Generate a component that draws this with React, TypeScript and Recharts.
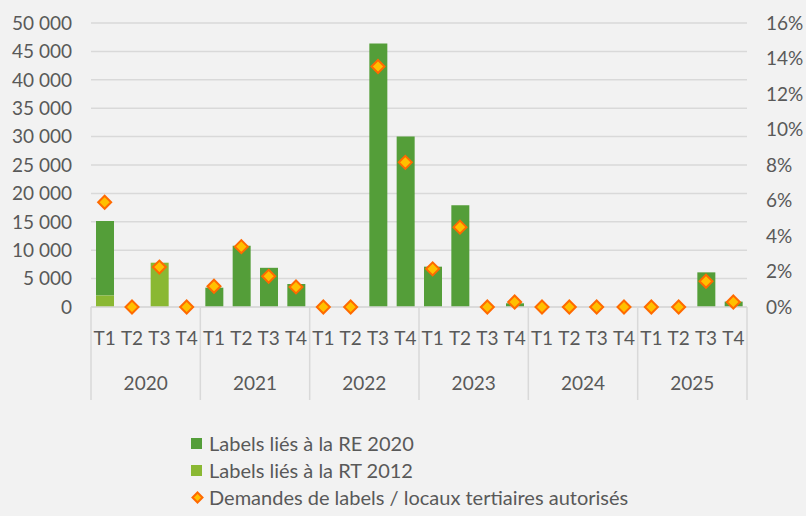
import React from "react";
import {
  ComposedChart,
  Bar,
  Line,
  XAxis,
  YAxis,
  CartesianGrid,
} from "recharts";

const years = ["2020", "2021", "2022", "2023", "2024", "2025"];
const quarters = ["T1", "T2", "T3", "T4"];

// Labels liés à la RE 2020 (nombre de m²)
const re2020 = [
  13100, 0, 0, 0,
  3400, 10800, 6900, 4050,
  0, 0, 46400, 30000,
  7100, 17900, 0, 650,
  0, 0, 0, 0,
  0, 0, 6100, 950,
];

// Labels liés à la RT 2012
const rt2012 = [
  2050, 0, 7800, 0,
  0, 0, 0, 0,
  0, 0, 0, 0,
  0, 0, 0, 0,
  0, 0, 0, 0,
  0, 0, 0, 0,
];

// Demandes de labels / locaux tertiaires autorisés (%)
const ratio = [
  5.9, 0, 2.25, 0,
  1.17, 3.4, 1.73, 1.13,
  0, 0, 13.55, 8.15,
  2.15, 4.5, 0, 0.28,
  0, 0, 0, 0,
  0, 0, 1.45, 0.28,
];

const leftTicks = [0, 5000, 10000, 15000, 20000, 25000, 30000, 35000, 40000, 45000, 50000];
const rightTicks = [0, 0.02, 0.04, 0.06, 0.08, 0.1, 0.12, 0.14, 0.16];

const labelRE = "Labels liés à la RE 2020";
const labelRT = "Labels liés à la RT 2012";
const labelRatio = "Demandes de labels / locaux tertiaires autorisés";

const data = re2020.map((v, i) => ({
  key: `${years[Math.floor(i / 4)]}-${quarters[i % 4]}`,
  quarter: quarters[i % 4],
  year: years[Math.floor(i / 4)],
  re: v,
  rt: rt2012[i],
  ratio: ratio[i] / 100,
}));

const W = 806;
const H = 516;
const LEFT = 91;
const RIGHT_W = 59;
const TOP = 23;
const XAXIS_H = 209;
const BAND = (W - LEFT - RIGHT_W) / data.length;

const FONT = "Lato, 'Open Sans', sans-serif";
const FS = 19;
const TEXT = "#595959";
const GRID = "#D9D9D9";
const DARK = "#549E39";
const LIGHT = "#8AB833";

const fmtThousands = (v: number) =>
  v === 0 ? "0" : `${Math.floor(v / 1000)} ${String(v % 1000).padStart(3, "0")}`;

function QuarterTick(props: any) {
  const { x, y, payload, index } = props;
  const i = index ?? payload.index;
  const q = data[i]?.quarter ?? "";
  const yr = data[i]?.year ?? "";
  const left = x - BAND / 2;
  return (
    <g>
      <text
        x={x}
        y={y + 38}
        textAnchor="middle"
        fill={TEXT}
        fontSize={FS}
        fontFamily={FONT}
      >
        {q}
      </text>
      {i % 4 === 0 && (
        <line x1={left} x2={left} y1={y} y2={y + 93} stroke={GRID} strokeWidth={1.5} />
      )}
      {i === data.length - 1 && (
        <line x1={x + BAND / 2} x2={x + BAND / 2} y1={y} y2={y + 93} stroke={GRID} strokeWidth={1.5} />
      )}
      {i % 4 === 1 && (
        <text
          x={x + BAND / 2}
          y={y + 83}
          textAnchor="middle"
          fill={TEXT}
          fontSize={FS}
          fontFamily={FONT}
        >
          {yr}
        </text>
      )}
    </g>
  );
}

function Diamond({ cx, cy, r = 6.5 }: { cx: number; cy: number; r?: number }) {
  return (
    <path
      d={`M${cx},${cy - r} L${cx + r},${cy} L${cx},${cy + r} L${cx - r},${cy} Z`}
      fill="#FFC000"
      stroke="#FF6A00"
      strokeWidth={2}
    />
  );
}

export default function App() {
  return (
    <div
      style={{
        position: "absolute",
        left: 0,
        top: 0,
        width: W,
        height: H,
        background: "#F2F2F2",
        fontFamily: FONT,
      }}
    >
      <ComposedChart
        width={W}
        height={H}
        data={data}
        margin={{ top: TOP, right: 0, left: 0, bottom: 0 }}
      >
        <CartesianGrid yAxisId="left" vertical={false} stroke={GRID} strokeWidth={1.5} />
        <XAxis
          dataKey="key"
          height={XAXIS_H}
          axisLine={{ stroke: GRID, strokeWidth: 1.5 }}
          tickLine={false}
          tickSize={0}
          tickMargin={0}
          interval={0}
          tick={<QuarterTick />}
        />
        <YAxis
          yAxisId="left"
          width={LEFT}
          domain={[0, 50000]}
          ticks={leftTicks}
          axisLine={false}
          tickLine={false}
          tickSize={0}
          tickMargin={19}
          interval={0}
          tickFormatter={fmtThousands}
          tick={{ fill: TEXT, fontSize: FS, fontFamily: FONT }}
        />
        <YAxis
          yAxisId="right"
          orientation="right"
          width={RIGHT_W}
          domain={[0, 0.16]}
          ticks={rightTicks}
          axisLine={false}
          tickLine={false}
          tickSize={0}
          tickMargin={19}
          interval={0}
          tickFormatter={(v: number) => `${Math.round(v * 100)}%`}
          tick={{ fill: TEXT, fontSize: FS, fontFamily: FONT }}
        />
        <Bar yAxisId="left" dataKey="rt" name={labelRT} stackId="a" fill={LIGHT} barSize={18} isAnimationActive={false} />
        <Bar yAxisId="left" dataKey="re" name={labelRE} stackId="a" fill={DARK} barSize={18} isAnimationActive={false} />
        <Line
          yAxisId="right"
          dataKey="ratio"
          name={labelRatio}
          stroke="none"
          isAnimationActive={false}
          dot={(p: any) => <Diamond key={`d-${p.index}`} cx={p.cx} cy={p.cy} />}
          activeDot={false}
        />
      </ComposedChart>
      <div
        style={{
          position: "absolute",
          left: 191,
          top: 430,
          color: TEXT,
          fontSize: 20,
          lineHeight: "27px",
        }}
      >
        {[
          { label: labelRE, color: DARK },
          { label: labelRT, color: LIGHT },
        ].map((it) => (
          <div key={it.label} style={{ display: "flex", alignItems: "center" }}>
            <span
              style={{
                display: "inline-block",
                width: 11,
                height: 11,
                background: it.color,
                marginRight: 7,
              }}
            />
            {it.label}
          </div>
        ))}
        <div style={{ display: "flex", alignItems: "center" }}>
          <svg width={13} height={13} style={{ marginRight: 5 }}>
            <Diamond cx={6.5} cy={6.5} r={5} />
          </svg>
          {labelRatio}
        </div>
      </div>
    </div>
  );
}
